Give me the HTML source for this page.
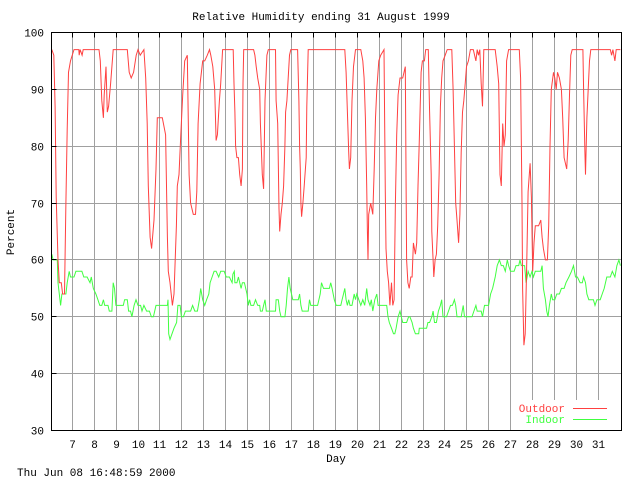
<!DOCTYPE html>
<html><head><meta charset="utf-8"><style>
body{margin:0;background:#fff}
svg{display:block}
text{font-family:"Liberation Mono","DejaVu Sans Mono",monospace;font-size:11px}
</style></head><body>
<svg id="chart" width="640" height="480" xmlns="http://www.w3.org/2000/svg">
<rect x="0" y="0" width="640" height="480" fill="#fff"/>
<g id="grid"></g>
<g id="series"></g>
<rect x="51.5" y="32.5" width="570" height="398" fill="none" stroke="#000" stroke-width="1"/>
<g id="ticks"></g>
<text x="321" y="20" text-anchor="middle">Relative Humidity ending 31 August 1999</text>
<text x="14" y="232" text-anchor="middle" transform="rotate(-90 14 232)">Percent</text>
<text x="336" y="462" text-anchor="middle">Day</text>
<text x="17" y="476">Thu Jun 08 16:48:59 2000</text>
<g>
<rect x="512" y="400" width="100" height="26" fill="#fff"/>
<text x="565" y="412" text-anchor="end" fill="#ff4040">Outdoor</text>
<line x1="573" y1="408.5" x2="607" y2="408.5" stroke="#ff4040"/>
<text x="565" y="423" text-anchor="end" fill="#40ff40">Indoor</text>
<line x1="573" y1="419.5" x2="607" y2="419.5" stroke="#40ff40"/>
</g>
</svg>
<script>
const yTicks=[30,40,50,60,70,80,90,100];
const xTicks=[7,8,9,10,11,12,13,14,15,16,17,18,19,20,21,22,23,24,25,26,27,28,29,30,31];
const outdoorPoints=[[6.07,97],[6.16,96],[6.22,87],[6.27,71],[6.35,60],[6.41,56],[6.5,56],[6.56,54],[6.65,54],[6.71,70],[6.77,83],[6.83,93],[6.92,95],[7.08,97],[7.3,97],[7.32,96],[7.36,97],[7.45,96],[7.5,97],[8.22,97],[8.28,95],[8.35,88],[8.42,85],[8.46,89],[8.54,94],[8.6,86],[8.66,87],[8.75,91],[8.87,97],[9.51,97],[9.6,93],[9.69,92],[9.8,93],[9.92,96],[10.0,97],[10.1,96],[10.27,97],[10.35,92],[10.42,84],[10.47,73],[10.55,64],[10.62,62],[10.73,67],[10.82,76],[10.88,85],[10.97,85],[11.11,85],[11.26,82],[11.34,64],[11.38,58],[11.46,56],[11.57,52],[11.64,54],[11.75,66],[11.79,73],[11.87,75],[11.95,82],[12.04,89],[12.13,95],[12.25,96],[12.33,75],[12.4,70],[12.52,68],[12.62,68],[12.68,72],[12.74,84],[12.83,91],[12.95,95],[13.04,95],[13.16,96],[13.26,97],[13.32,96],[13.41,94],[13.5,90],[13.56,81],[13.62,82],[13.71,88],[13.77,91],[13.86,97],[14.34,97],[14.38,91],[14.42,86],[14.45,80],[14.51,78],[14.58,78],[14.64,75],[14.7,73],[14.76,76],[14.79,91],[14.82,97],[15.27,97],[15.33,96],[15.39,94],[15.46,92],[15.55,90],[15.58,84],[15.67,75],[15.73,72.5],[15.79,88],[15.88,96],[15.94,97],[16.27,97],[16.3,88],[16.37,84],[16.43,69],[16.46,65],[16.52,68],[16.58,70],[16.64,73],[16.7,80],[16.73,86],[16.79,88],[16.85,92],[16.91,96],[16.97,97],[17.28,97],[17.34,88],[17.37,80],[17.4,76],[17.43,70],[17.46,67.6],[17.52,70],[17.58,73],[17.67,78],[17.7,87],[17.76,97],[19.43,97],[19.49,93],[19.55,86],[19.61,79],[19.64,76],[19.7,78],[19.76,88],[19.83,94],[19.92,97],[20.16,97],[20.25,95],[20.31,92],[20.37,85],[20.43,73],[20.46,65],[20.49,60],[20.52,68],[20.61,70],[20.71,68],[20.77,76],[20.83,85],[20.89,90],[20.98,95],[21.07,96],[21.22,97],[21.28,72],[21.31,62],[21.37,58],[21.43,56],[21.49,52],[21.56,56],[21.62,52],[21.68,53],[21.74,70],[21.8,82],[21.86,89],[21.95,92],[22.01,92],[22.07,92],[22.13,93],[22.19,94],[22.25,60],[22.31,56],[22.37,55],[22.44,57],[22.5,57],[22.56,63],[22.65,61],[22.71,63],[22.77,73],[22.83,81],[22.91,93],[22.97,95],[23.06,95],[23.12,97],[23.24,97],[23.3,86],[23.37,75],[23.4,65],[23.46,60],[23.49,57],[23.55,60],[23.61,61],[23.67,66],[23.73,75],[23.79,87],[23.85,92],[23.91,95],[24.01,96],[24.1,97],[24.31,97],[24.37,90],[24.43,80],[24.49,70],[24.55,67],[24.62,63],[24.68,68],[24.74,79],[24.8,86],[24.86,88],[24.92,91],[24.98,94],[25.07,95],[25.16,97],[25.29,97],[25.41,95],[25.47,97],[25.53,96],[25.59,97],[25.65,91],[25.71,87],[25.77,97],[26.29,97],[26.38,94],[26.45,91],[26.51,75],[26.57,73],[26.63,84],[26.69,80],[26.75,82],[26.81,95],[26.9,97],[27.39,97],[27.45,92],[27.51,70],[27.54,55],[27.6,45],[27.66,47],[27.73,60],[27.79,72],[27.88,77],[27.94,71],[28.0,58],[28.06,63],[28.12,66],[28.27,66],[28.37,67],[28.43,64],[28.49,62],[28.58,60],[28.67,60],[28.73,66],[28.79,80],[28.85,90],[28.95,93],[29.01,92],[29.07,90],[29.13,93],[29.22,92],[29.31,90],[29.37,85],[29.43,78],[29.49,77],[29.55,76],[29.62,81],[29.68,89],[29.74,96],[29.8,97],[30.29,97],[30.32,90],[30.38,79],[30.41,75],[30.47,85],[30.53,90],[30.59,95],[30.65,97],[31.54,97],[31.6,96],[31.66,97],[31.75,95],[31.81,97],[32.0,97]];
const indoorPoints=[[6.07,61],[6.13,60],[6.32,60],[6.35,56],[6.41,54],[6.47,52],[6.53,54],[6.56,54],[6.71,54],[6.77,56],[6.86,58],[6.92,57],[7.08,57],[7.17,58],[7.44,58],[7.53,57],[7.68,57],[7.81,56],[7.87,57],[7.96,55],[8.08,54],[8.17,53],[8.26,52],[8.35,52],[8.42,53],[8.48,52],[8.63,52],[8.69,51],[8.81,51],[8.87,56],[8.93,55],[8.99,52],[9.33,52],[9.39,53],[9.51,53],[9.57,51],[9.66,51],[9.72,50],[9.82,52],[9.91,53],[10.0,52],[10.12,52],[10.18,51],[10.27,52],[10.39,51],[10.52,51],[10.61,50],[10.7,50],[10.76,51],[10.82,52],[11.34,52],[11.37,53],[11.4,47],[11.46,46],[11.55,47],[11.64,48],[11.76,49],[11.82,52],[11.92,52],[11.98,50],[12.07,50],[12.16,51],[12.4,51],[12.49,52],[12.59,51],[12.71,51],[12.8,53],[12.86,55],[12.95,53],[13.04,52],[13.13,53],[13.23,54],[13.29,56],[13.38,57],[13.47,58],[13.56,58],[13.68,57],[13.77,58],[13.93,58],[14.02,57],[14.17,57],[14.29,56],[14.33,57.5],[14.39,58],[14.42,56],[14.51,56],[14.58,57],[14.64,56],[14.7,55],[14.76,56],[14.85,56],[14.91,55],[14.97,54],[15.03,52],[15.09,53],[15.15,52],[15.27,52],[15.36,53],[15.46,52],[15.55,52],[15.58,51],[15.67,51],[15.73,52],[15.79,53],[15.85,51],[15.97,51],[16.27,51],[16.3,53],[16.4,53],[16.46,51],[16.52,50],[16.7,50],[16.76,52],[16.82,55],[16.88,57],[16.94,55],[17.0,54],[17.06,53],[17.31,53],[17.37,54],[17.43,52],[17.49,51],[17.76,51],[17.82,53],[17.88,52],[17.97,52],[18.19,52],[18.25,53],[18.31,54],[18.37,56],[18.46,55],[18.73,55],[18.79,56],[18.85,55],[18.95,53],[19.04,52],[19.25,52],[19.31,53],[19.37,54],[19.43,55],[19.49,53],[19.55,52],[19.61,53],[19.67,52],[19.76,52],[19.86,54],[19.92,53],[19.98,54],[20.07,53],[20.16,52],[20.25,53],[20.34,52],[20.43,55],[20.49,53],[20.58,52],[20.64,53],[20.71,51],[20.8,53],[20.89,54],[20.95,52],[21.34,52],[21.4,50],[21.46,49],[21.56,48],[21.65,47],[21.71,47],[21.77,48],[21.86,50],[21.95,51],[22.01,50],[22.07,49],[22.25,49],[22.34,50],[22.4,50],[22.5,49],[22.56,48],[22.65,47],[22.8,47],[22.83,48],[22.95,48],[23.16,48],[23.22,49],[23.3,49],[23.4,50],[23.46,51],[23.52,49],[23.61,49],[23.7,51],[23.79,52],[23.85,53],[23.91,50],[24.07,50],[24.16,51],[24.25,52],[24.34,52],[24.43,53],[24.49,52],[24.55,50],[24.74,50],[24.83,52],[24.89,50],[24.98,50],[25.23,50],[25.32,51],[25.41,52],[25.47,51],[25.65,51],[25.71,50],[25.8,52],[25.99,52],[26.08,54],[26.17,55],[26.29,57],[26.38,59],[26.48,60],[26.57,59],[26.66,59],[26.75,58],[26.84,60],[26.9,59],[26.99,58],[27.15,58],[27.24,59],[27.36,59],[27.42,60],[27.48,59],[27.63,59],[27.7,56],[27.79,58],[27.88,57],[27.97,58],[28.03,57],[28.12,58],[28.37,58],[28.43,59],[28.49,55],[28.58,53],[28.64,51],[28.7,50],[28.76,52],[28.85,54],[28.91,53],[29.01,53],[29.1,54],[29.22,54],[29.31,55],[29.43,55],[29.52,56],[29.65,57],[29.77,58],[29.86,59],[29.95,57],[30.04,57],[30.16,56],[30.26,56],[30.32,57],[30.41,56],[30.47,54],[30.56,53],[30.77,53],[30.84,52],[30.93,53],[31.08,53],[31.17,54],[31.26,55],[31.38,57],[31.54,57],[31.63,58],[31.75,57],[31.84,59],[31.93,60],[32.0,59]];

const L=51.5,R=621.5,T=32.5,B=430.5,XMIN=6.055,XMAX=32.05;
function sx(d){return L+(d-XMIN)/(XMAX-XMIN)*(R-L);}
function sy(v){return B-(v-30)/70*(B-T);}
const NS="http://www.w3.org/2000/svg";
const grid=document.getElementById('grid'),ticks=document.getElementById('ticks'),series=document.getElementById('series');
function mk(tag,attrs,parent){const e=document.createElementNS(NS,tag);for(const k in attrs)e.setAttribute(k,attrs[k]);parent.appendChild(e);return e;}
yTicks.forEach(v=>{
  const y=Math.round(sy(v)-0.5)+0.5;
  if(v>30&&v<100){
    const g=mk('line',{x1:L,x2:R,y1:y,y2:y,stroke:'#a0a0a0'},grid);
    
    
  }
  const t=mk('line',{x1:L,x2:L+5,y1:y,y2:y,stroke:'#000'},ticks);
  
  
  const lb=mk('text',{x:44,y:y+4,'text-anchor':'end'},ticks);
  lb.textContent=v;
  
  
});
xTicks.forEach(d=>{
  const x=Math.round(sx(d)-0.5)+0.5;
  const bottom=(d>=28)?403:B;
  const g=mk('line',{x1:x,x2:x,y1:T,y2:bottom,stroke:'#a0a0a0'},grid);
  
  
  const t=mk('line',{x1:x,x2:x,y1:T,y2:T+5,stroke:'#000'},ticks);
  
  
  const lb=mk('text',{x:x,y:448,'text-anchor':'middle'},ticks);
  lb.textContent=d;
  
  
});
function line(points,color,name){
  const pts=points.map(p=>sx(p[0]).toFixed(1)+','+sy(p[1]).toFixed(1)).join(' ');
  const p=mk('polyline',{points:pts,fill:'none',stroke:color,'stroke-width':1},series);
  
  
}
line(indoorPoints,'#40ff40','indoor-line');
line(outdoorPoints,'#ff4040','outdoor-line');
</script>
</body></html>
